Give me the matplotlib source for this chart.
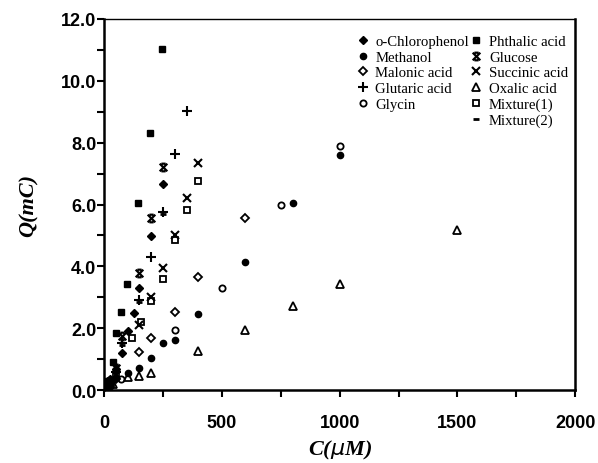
import numpy as np
import matplotlib
matplotlib.use('Agg')
import matplotlib.pyplot as plt
import matplotlib.ticker as tck
from matplotlib.path import Path
from matplotlib.lines import Line2D

# charge Q (mC) vs concentration C (uM) for each compound
chloro_x = [5, 10, 25, 50, 75, 100, 125, 150, 200, 250]
chloro_y = [0.08, 0.15, 0.35, 0.68, 1.19, 1.91, 2.49, 3.30, 4.98, 6.66]

phthalic_x = [5, 15, 38, 52, 72, 98, 145, 196, 247]
phthalic_y = [0.1, 0.3, 0.9, 1.84, 2.52, 3.43, 6.05, 8.31, 11.03]

methanol_x = [10, 25, 50, 100, 150, 200, 250, 300, 400, 600, 800, 1000]
methanol_y = [0.08, 0.2, 0.4, 0.55, 0.72, 1.03, 1.53, 1.61, 2.47, 4.13, 6.05, 7.60]

glucose_x = [10, 25, 50, 77, 150, 200, 250]
glucose_y = [0.1, 0.3, 0.7, 1.76, 3.78, 5.55, 7.20]

malonic_x = [10, 25, 50, 150, 200, 300, 400, 600]
malonic_y = [0.06, 0.15, 0.35, 1.24, 1.68, 2.53, 3.66, 5.58]

succinic_x = [10, 25, 50, 150, 200, 250, 300, 350, 400]
succinic_y = [0.08, 0.2, 0.5, 2.11, 3.0, 3.94, 5.01, 6.21, 7.33]

glutaric_x = [10, 25, 50, 75, 150, 200, 250, 300, 350]
glutaric_y = [0.1, 0.3, 0.6, 1.54, 2.92, 4.29, 5.75, 7.63, 9.03]

oxalic_x = [10, 40, 100, 150, 200, 400, 600, 800, 1000, 1500]
oxalic_y = [0.05, 0.19, 0.43, 0.46, 0.57, 1.27, 1.95, 2.71, 3.42, 5.17]

glycin_x = [10, 25, 72, 300, 500, 750, 1000]
glycin_y = [0.05, 0.15, 0.37, 1.93, 3.29, 5.97, 7.90]

mix1_x = [10, 25, 50, 118, 158, 200, 250, 300, 350, 400]
mix1_y = [0.06, 0.18, 0.45, 1.67, 2.2, 2.88, 3.60, 4.85, 5.83, 6.77]

mix2_x = [10, 25, 50, 75, 150, 250]
mix2_y = [0.1, 0.3, 0.6, 1.45, 2.85, 5.68]

# X with short bars on top and bottom for glucose
bowtie = Path([(-1, -1), (1, 1), (-1, 1), (1, -1),
               (-0.55, 1), (0.55, 1), (-0.55, -1), (0.55, -1)],
              [Path.MOVETO, Path.LINETO] * 4)

plt.rcParams['font.family'] = 'Liberation Sans'

fig = plt.figure(figsize=(5.98, 4.64), dpi=100)
ax = fig.add_axes([0.174, 0.157, 0.788, 0.80])

filled = dict(color='black', linestyle='none')
hollow = dict(color='black', linestyle='none', markerfacecolor='none', markeredgewidth=1.3)

ax.plot(chloro_x, chloro_y, marker='D', markersize=4.5, label='o-Chlorophenol', **filled)
ax.plot(methanol_x, methanol_y, marker='o', markersize=4.5, label='Methanol', **filled)
ax.plot(malonic_x, malonic_y, marker='D', markersize=4, label='Malonic acid', **hollow)
ax.plot(glutaric_x, glutaric_y, marker='+', markersize=7, markeredgewidth=1.5,
        label='Glutaric acid', **filled)
ax.plot(glycin_x, glycin_y, marker='o', markersize=4.5, label='Glycin', **hollow)
ax.plot(phthalic_x, phthalic_y, marker='s', markersize=5, label='Phthalic acid', **filled)
ax.plot(glucose_x, glucose_y, marker=bowtie, markersize=5.5, markeredgewidth=1.6,
        label='Glucose', **filled)
ax.plot(succinic_x, succinic_y, marker='x', markersize=6, markeredgewidth=1.5,
        label='Succinic acid', **filled)
ax.plot(oxalic_x, oxalic_y, marker='^', markersize=5.5, label='Oxalic acid', **hollow)
ax.plot(mix1_x, mix1_y, marker='s', markersize=4.5, label='Mixture(1)', **hollow)
ax.plot(mix2_x, mix2_y, marker='_', markersize=5, markeredgewidth=2,
        label='Mixture(2)', **filled)

ax.set_xlim(0, 2000)
ax.set_ylim(0, 12)
ax.xaxis.set_major_locator(tck.MultipleLocator(500))
ax.xaxis.set_minor_locator(tck.MultipleLocator(250))
ax.yaxis.set_major_locator(tck.MultipleLocator(2))
ax.yaxis.set_minor_locator(tck.MultipleLocator(1))
ax.yaxis.set_major_formatter(tck.FormatStrFormatter('%.1f'))
ax.tick_params(which='both', direction='out', width=1.5, labelsize=13)
ax.tick_params(which='major', length=5)
ax.tick_params(which='minor', length=5)
ax.tick_params(axis='x', pad=12)
ax.tick_params(axis='y', pad=0.5)
for lbl in ax.get_xticklabels() + ax.get_yticklabels():
    lbl.set_fontweight('bold')

for side in ['left', 'bottom', 'right']:
    ax.spines[side].set_linewidth(1.8)
ax.spines['top'].set_linewidth(1.0)

axfont = dict(family='Liberation Serif', fontsize=16, fontweight='bold', style='italic')
ax.set_xlabel(r'C($\mu$M)', labelpad=5, **axfont)
ax.set_ylabel('Q(mC)', labelpad=16, **axfont)

# empty slot so the first column holds five entries
handles, labels = ax.get_legend_handles_labels()
blank = Line2D([], [], linestyle='none')
handles = handles[:5] + [blank] + handles[5:]
labels = labels[:5] + [''] + labels[5:]
ax.legend(handles, labels, ncol=2, loc='upper left', frameon=False,
          prop={'family': 'Liberation Serif', 'size': 10.6},
          handlelength=0.8, handletextpad=0.45, columnspacing=0.1,
          labelspacing=0.16, borderaxespad=0.0, bbox_to_anchor=(0.524, 0.973))

fig.savefig('out.png', dpi=100)
